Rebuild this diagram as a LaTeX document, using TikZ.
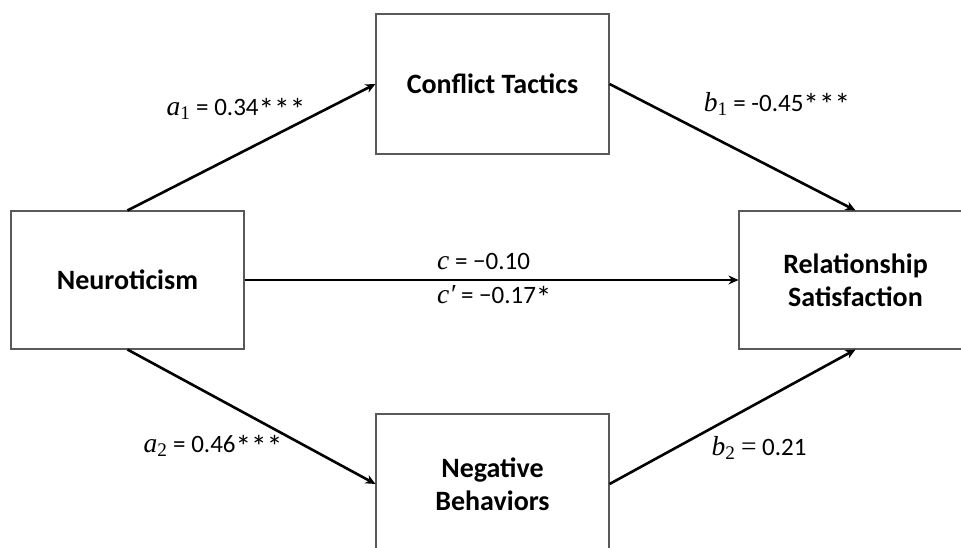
\documentclass[tikz,border=0pt]{standalone}
\usepackage{fontspec}
\setmainfont{Carlito}
\newfontfamily\symfont[Scale=1.1]{Liberation Serif}
\usetikzlibrary{arrows.meta}
\usepackage{graphicx}
% italic coefficient letter with an optional subscript
\newcommand{\coefsym}[2]{{\symfont\itshape #1}\textsubscript{\symfont #2}}
% significance stars, set a little larger than the font's own
\newcommand{\sig}[1]{\raisebox{-4.5pt}{\scalebox{1.25}{#1}}}
\begin{document}
\begin{tikzpicture}[x=1pt,y=1pt,
  varbox/.style={draw=black!65, line width=1.1pt, fill=white, minimum width=233pt,
    align=center, font=\fontsize{28}{33}\selectfont\bfseries},
  path/.style={line width=2.6pt, -{Stealth[length=10pt,width=9pt]}},
  coef/.style={font=\fontsize{25}{29}\selectfont, inner sep=0pt}]
\useasboundingbox (0,0) rectangle (961,548);
\clip (0,0) rectangle (961,548);
% variables
\node[varbox, minimum height=138pt] (neu) at (127.5,268) {Neuroticism};
\node[varbox, minimum height=140pt] (ct) at (492.5,464) {Conflict Tactics};
\node[varbox, minimum height=140pt] (nb) at (492.5,64) {Negative\\Behaviors};
\node[varbox, minimum height=138pt] (rs) at (855.5,268) {Relationship\\Satisfaction};
% paths
\draw[path] (neu.north) -- (ct.west);
\draw[path] (ct.east) -- (rs.north);
\draw[path] (neu.south) -- (nb.west);
\draw[path] (nb.east) -- (rs.south);
\draw[path] (neu.east) -- (rs.west);
% coefficients
\node[coef] (la1) at (236,439) {\coefsym{a}{1} = 0.34\sig{***}};
\node[coef] (lb1) at (777,444) {\coefsym{b}{1} = -0.45\sig{***}};
\node[coef, anchor=west] (lc) at (437,286) {{\symfont\itshape c} = −0.10};
\node[coef, anchor=west] (lcp) at (437,251) {{\symfont\itshape c′} = −0.17\sig{*}};
\node[coef] (la2) at (213,102) {\coefsym{a}{2} = 0.46\sig{***}};
\node[coef] (lb2) at (759,100) {\coefsym{b}{2} {\symfont =} 0.21};
\end{tikzpicture}
\end{document}
